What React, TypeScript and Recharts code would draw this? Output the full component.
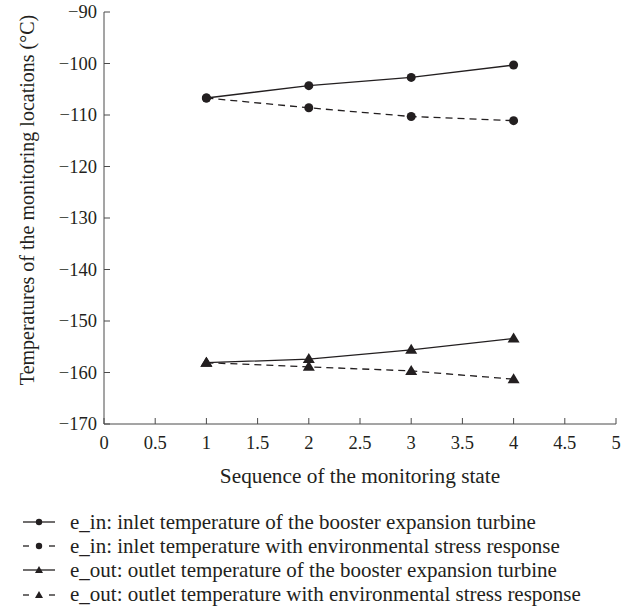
import { LineChart, Line, XAxis, YAxis, Label } from "recharts";

const seq = [1, 2, 3, 4];
const eInBase = [-106.7, -104.3, -102.7, -100.3];
const eInStress = [-106.7, -108.6, -110.3, -111.1];
const eOutBase = [-158.1, -157.4, -155.6, -153.4];
const eOutStress = [-158.1, -158.9, -159.7, -161.3];

const xTicks = [0, 0.5, 1, 1.5, 2, 2.5, 3, 3.5, 4, 4.5, 5];
const yTicks = [-170, -160, -150, -140, -130, -120, -110, -100, -90];

const legendNames = [
  "e_in: inlet temperature of the booster expansion turbine",
  "e_in: inlet temperature with environmental stress response",
  "e_out: outlet temperature of the booster expansion turbine",
  "e_out: outlet temperature with environmental stress response",
];

const data = seq.map((s, i) => ({
  s,
  inBase: eInBase[i],
  inStress: eInStress[i],
  outBase: eOutBase[i],
  outStress: eOutStress[i],
}));

const INK = "#231f20";
const AXIS = "#4a4a4a";
const FONT = "'Liberation Serif', 'DejaVu Serif', serif";
const TICK_FS = 18.5;

const Tri = (p: any) => {
  const { cx, cy } = p;
  if (cx == null || cy == null) return null;
  return <path key={p.key} d={`M${cx},${cy - 6} L${cx + 6},${cy + 4} L${cx - 6},${cy + 4} Z`} fill={INK} />;
};

const Circ = (p: any) => {
  const { cx, cy } = p;
  if (cx == null || cy == null) return null;
  return <circle key={p.key} cx={cx} cy={cy} r={4.5} fill={INK} />;
};

const minus = (v: number) => String(v).replace("-", "\u2212");

// inward tick marks; default tickSize 6 + tickMargin 2 puts the label anchor 8px off the axis
const XTick = (p: any) => {
  const ax = p.y - 8;
  return (
    <g>
      <line x1={p.x} x2={p.x} y1={ax} y2={ax - 6} stroke={AXIS} />
      <text x={p.x} y={ax + 25} textAnchor="middle" fontFamily={FONT} fontSize={TICK_FS} fill={INK}>
        {p.payload.value}
      </text>
    </g>
  );
};

const YTick = (p: any) => {
  const ax = p.x + 8;
  return (
    <g>
      <line x1={ax} x2={ax + 6} y1={p.y} y2={p.y} stroke={AXIS} />
      <text x={ax - 7} y={p.y} dy="0.35em" textAnchor="end" fontFamily={FONT} fontSize={TICK_FS} fill={INK}>
        {minus(p.payload.value)}
      </text>
    </g>
  );
};

const series = [
  { key: "inBase", dash: undefined, marker: "c" },
  { key: "inStress", dash: "7 5", marker: "c" },
  { key: "outBase", dash: undefined, marker: "t" },
  { key: "outStress", dash: "7 5", marker: "t" },
];

function LegendBox() {
  return (
    <div style={{ position: "absolute", left: 22, top: 510, fontFamily: FONT, fontSize: 21, color: INK }}>
      {series.map((s, i) => (
        <div key={s.key} style={{ display: "flex", alignItems: "center", height: 24.2, whiteSpace: "nowrap" }}>
          <svg width={34} height={12} style={{ marginRight: 14 }}>
            {s.dash ? (
              <g stroke={INK} strokeWidth={1.3}>
                <line x1={1} x2={7} y1={6} y2={6} />
                <line x1={27} x2={33} y1={6} y2={6} />
              </g>
            ) : (
              <line x1={1} x2={33} y1={6} y2={6} stroke={INK} strokeWidth={1.3} />
            )}
            {s.marker === "c" ? (
              <circle cx={17} cy={6} r={3.2} fill={INK} />
            ) : (
              <path d="M17,2 L21,9 L13,9 Z" fill={INK} />
            )}
          </svg>
          <span>{legendNames[i]}</span>
        </div>
      ))}
    </div>
  );
}

export default function App() {
  return (
    <div style={{ position: "absolute", left: 0, top: 0, width: 631, height: 616, background: "#fff" }}>
      <LineChart width={631} height={616} data={data} margin={{ top: 12, right: 15, left: 44, bottom: 132 }}>
        <XAxis
          dataKey="s"
          type="number"
          domain={[0, 5]}
          ticks={xTicks}
          interval={0}
          height={60}
          stroke={AXIS}
          tickLine={false}
          tick={XTick}
        >
          <Label
            content={({ viewBox }: any) => (
              <text
                x={viewBox.x + viewBox.width / 2}
                y={viewBox.y + 59}
                textAnchor="middle"
                fontFamily={FONT}
                fontSize={21.3}
                fill={INK}
              >
                Sequence of the monitoring state
              </text>
            )}
          />
        </XAxis>
        <YAxis
          type="number"
          domain={[-170, -90]}
          ticks={yTicks}
          interval={0}
          width={60}
          stroke={AXIS}
          tickLine={false}
          tick={YTick}
        >
          <Label
            content={({ viewBox }: any) => {
              const cx = 27;
              const cy = viewBox.y + viewBox.height / 2 - 18;
              return (
                <text
                  x={cx}
                  y={cy}
                  transform={`rotate(-90 ${cx} ${cy})`}
                  textAnchor="middle"
                  dominantBaseline="central"
                  fontFamily={FONT}
                  fontSize={20}
                  fill={INK}
                >
                  Temperatures of the monitoring locations (°C)
                </text>
              );
            }}
          />
        </YAxis>
        {series.map((s) => (
          <Line
            key={s.key}
            dataKey={s.key}
            type="linear"
            stroke={INK}
            strokeWidth={1.3}
            strokeDasharray={s.dash}
            dot={s.marker === "c" ? Circ : Tri}
            activeDot={false}
            isAnimationActive={false}
          />
        ))}
      </LineChart>
      <LegendBox />
    </div>
  );
}
